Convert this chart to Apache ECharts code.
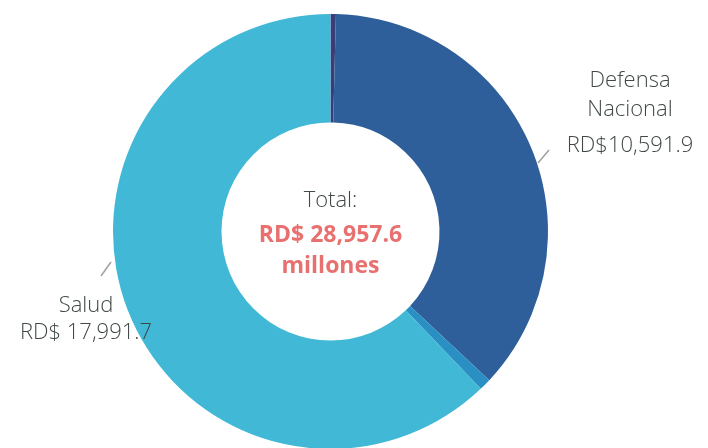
<!DOCTYPE html>
<html>
<head>
<meta charset="utf-8">
<script src="https://cdn.jsdelivr.net/npm/echarts@6/dist/echarts.min.js"></script>
<style>
  html, body { margin: 0; padding: 0; background: #fff; }
</style>
</head>
<body>
<div id="main" style="width: 708px;height:448px;"></div>
<script>
    // datos (millones RD$)
    var names = ['Otros', 'Defensa\nNacional', 'Otros 2', 'Salud'];
    var values = [115, 10591.9, 259, 17991.7];
    var valueLabels = ['', 'RD$10,591.9', '', 'RD$ 17,991.7'];
    var colors = ['#3b3d78', '#2e5f9a', '#2a8fc2', '#41b8d6'];
    var showLabel = [false, true, false, true];
    var totalText = 'RD$ 28,957.6';

    // posiciones de etiquetas (x, y) y puntos de la linea
    var labelPos = {
        1: { x: 630, y: 117, line: [[538, 163], [549, 150], [549, 150]] },
        3: { x: 86, y: 319, line: [[101, 276], [111, 262], [111, 262]] }
    };

    var pieData = values.map(function (v, i) {
        return {
            name: names[i],
            value: v,
            itemStyle: { color: colors[i] },
            label: { show: showLabel[i] },
            labelLine: { show: showLabel[i] }
        };
    });

    var myChart = echarts.init(document.getElementById('main'));
    var option = {
        animation: false,
        series: [{
            type: 'pie',
            center: [330.5, 231.5],
            radius: [109, 217.5],
            startAngle: 90,
            clockwise: true,
            avoidLabelOverlap: false,
            data: pieData,
            label: {
                position: 'outside',
                fontFamily: '"Open Sans", sans-serif',
                color: '#404848',
                formatter: function (p) {
                    if (p.dataIndex === 1) {
                        return '{n|Defensa}\n{n|Nacional}\n{v|' + valueLabels[1] + '}';
                    }
                    return '{s|' + p.name + '}\n{s|' + valueLabels[p.dataIndex] + '}';
                },
                rich: {
                    n: { fontSize: 22, fontWeight: 300, lineHeight: 29, color: '#404848', fontFamily: '"Open Sans", sans-serif', align: 'center' },
                    v: { fontSize: 22, fontWeight: 300, lineHeight: 43, color: '#404848', fontFamily: '"Open Sans", sans-serif', align: 'center' },
                    s: { fontSize: 22, fontWeight: 300, lineHeight: 27, color: '#404848', fontFamily: '"Open Sans", sans-serif', align: 'center' }
                }
            },
            labelLine: {
                show: true,
                length: 8,
                length2: 0,
                lineStyle: { color: '#a0a0a0', width: 1.5 }
            },
            labelLayout: function (params) {
                var p = labelPos[params.dataIndex];
                if (!p) return {};
                return {
                    x: p.x,
                    y: p.y,
                    align: 'center',
                    verticalAlign: 'middle',
                    labelLinePoints: p.line
                };
            }
        }],
        graphic: [{
            type: 'text',
            x: 330.5,
            y: 232,
            style: {
                text: '{t|Total:}\n{b|' + totalText + '}\n{m|millones}',
                align: 'center',
                verticalAlign: 'middle',
                rich: {
                    t: { fontSize: 22, fontWeight: 300, lineHeight: 36, fill: '#404848', fontFamily: '"Open Sans", sans-serif', align: 'center' },
                    b: { fontSize: 23, fontWeight: 'bold', lineHeight: 32, fill: '#e8706f', fontFamily: '"Open Sans", sans-serif', align: 'center' },
                    m: { fontSize: 23, fontWeight: 'bold', lineHeight: 30, fill: '#e8706f', fontFamily: '"Open Sans", sans-serif', align: 'center' }
                }
            }
        }]
    };
    myChart.setOption(option);
</script>
</body>
</html>
